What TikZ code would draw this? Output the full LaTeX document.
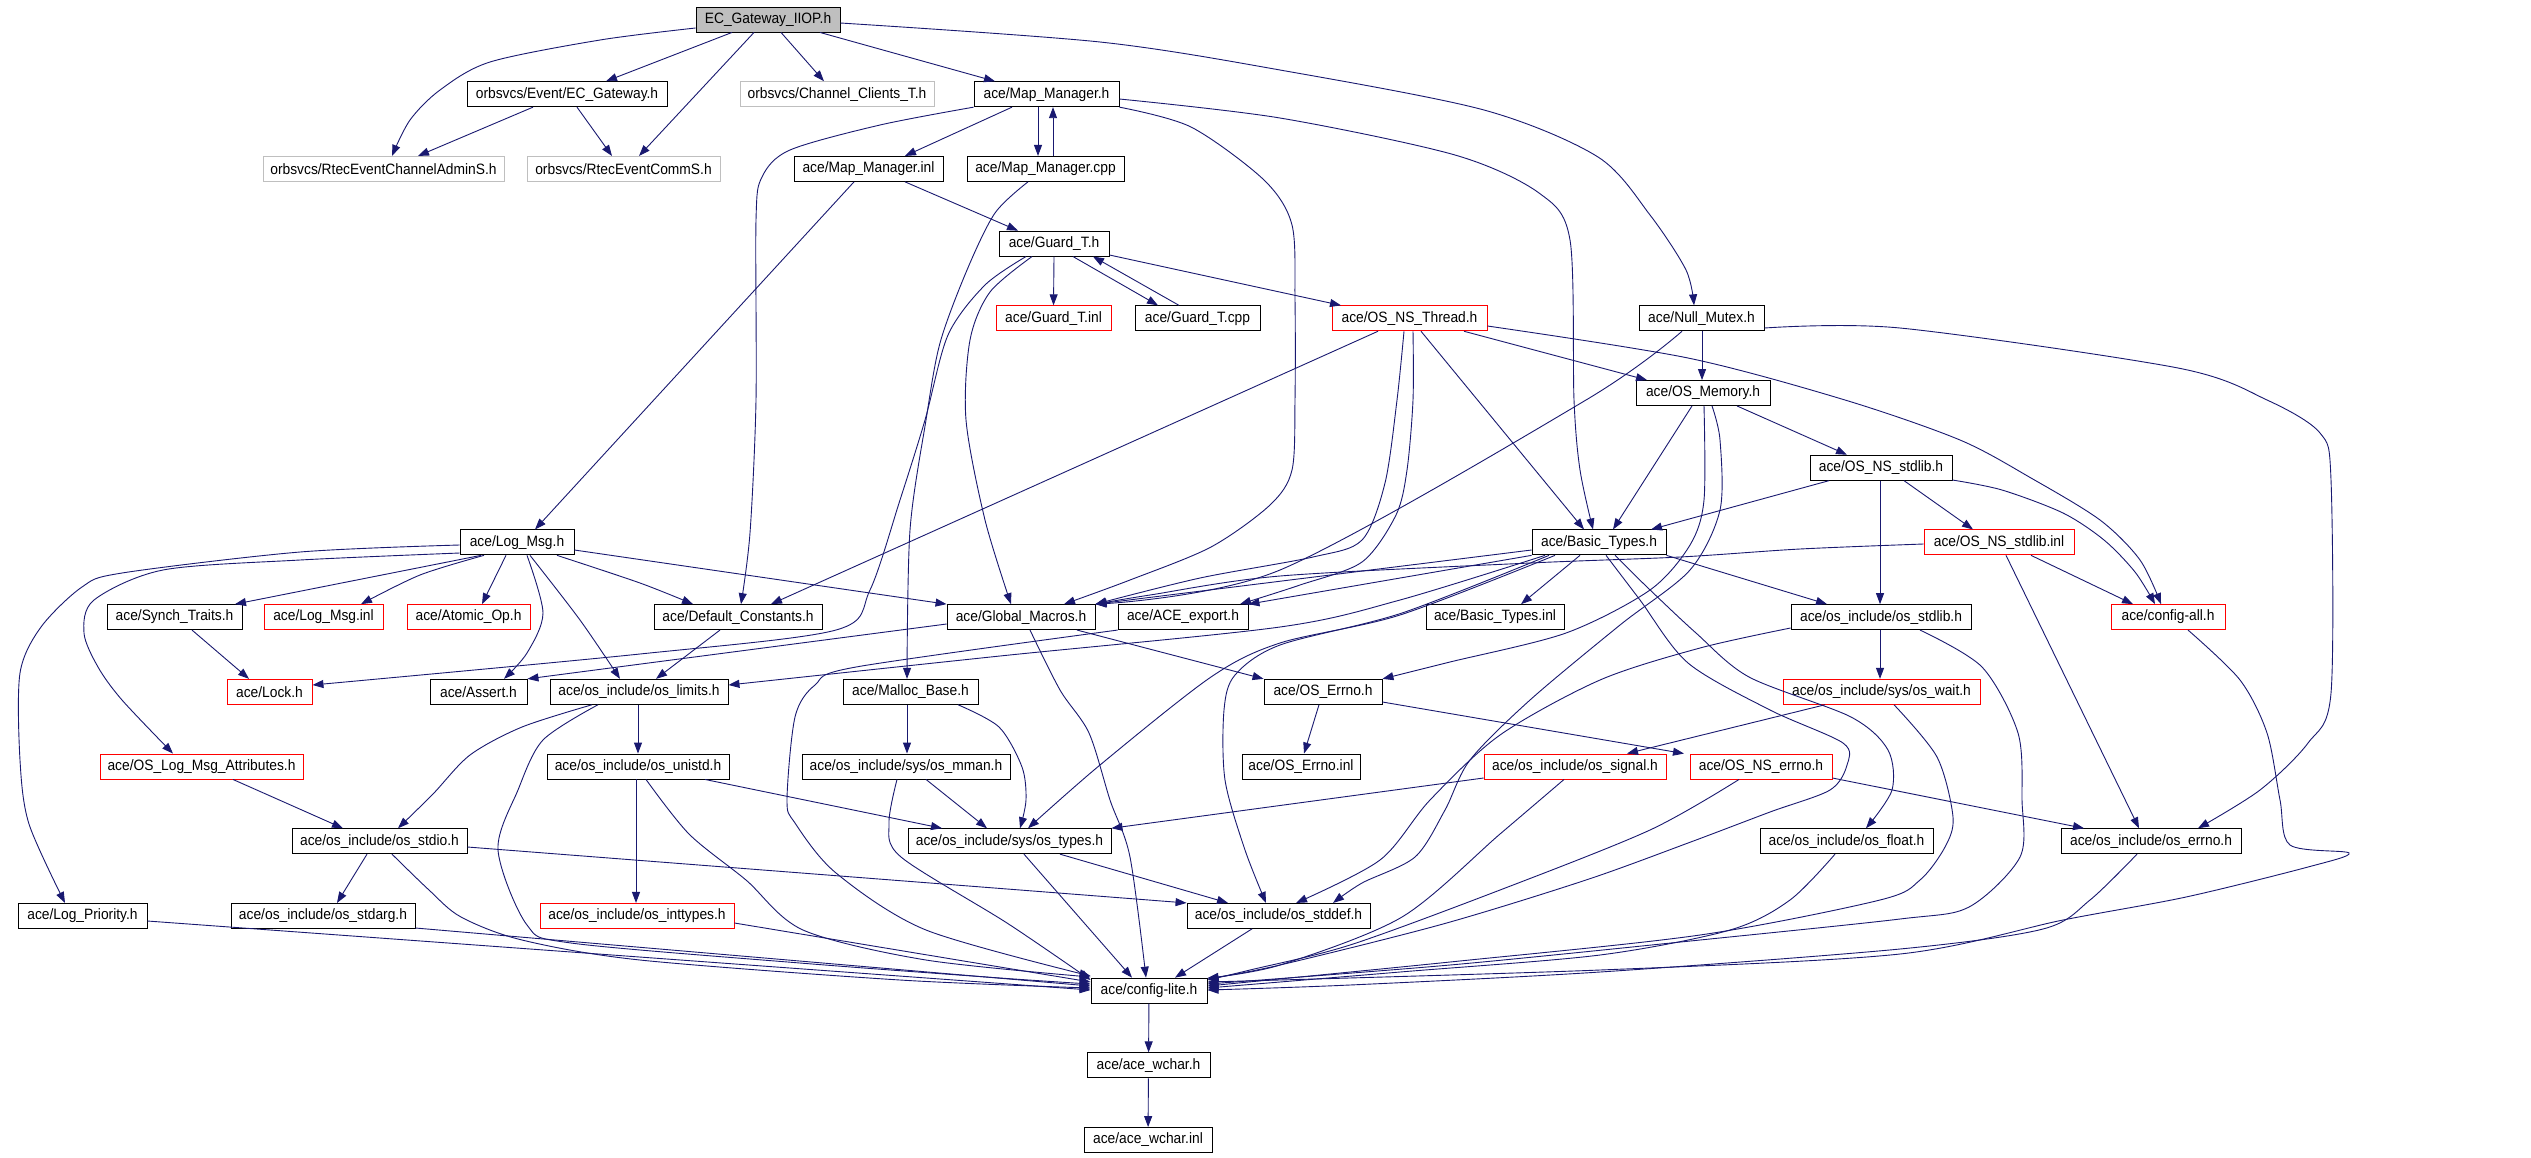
\documentclass[tikz,border=0pt]{standalone}
\usepackage{fontspec}
\setmainfont{Liberation Sans}[FakeStretch=0.92]
\usetikzlibrary{arrows.meta}
\definecolor{edgec}{HTML}{191970}
\definecolor{graybd}{HTML}{BFBFBF}
\newcommand{\nfs}{\fontsize{15pt}{18pt}\selectfont}
\begin{document}
\begin{tikzpicture}[x=1pt,y=-1pt,
  nb/.style={draw=black, line width=0.9pt, rectangle, inner sep=0pt, minimum height=25pt, font=\nfs, text=black},
  nr/.style={nb, draw=red},
  ng/.style={nb, draw=graybd},
  nroot/.style={nb, fill=graybd},
  edg/.style={draw=edgec, line width=0.9pt, -{Triangle[length=11pt,width=8pt]}},
]
\useasboundingbox[fill=white] (0,0) rectangle (2531,1157);
% ---------------- nodes ----------------
\node[nroot, minimum width=144] (root) at (768,19.5) {EC\_Gateway\_IIOP.h};
\node[nb, minimum width=200] (ecgw) at (567,94.2) {orbsvcs/Event/EC\_Gateway.h};
\node[ng, minimum width=194] (cct) at (837,94.2) {orbsvcs/Channel\_Clients\_T.h};
\node[nb, minimum width=145] (mmh) at (1046.5,94.2) {ace/Map\_Manager.h};
\node[ng, minimum width=241] (rtadm) at (383.5,168.9) {orbsvcs/RtecEventChannelAdminS.h};
\node[ng, minimum width=193] (rtcomm) at (623.5,168.9) {orbsvcs/RtecEventCommS.h};
\node[nb, minimum width=149] (mminl) at (868.5,168.9) {ace/Map\_Manager.inl};
\node[nb, minimum width=157] (mmcpp) at (1045.5,168.9) {ace/Map\_Manager.cpp};
\node[nb, minimum width=110] (guard) at (1054,243.6) {ace/Guard\_T.h};
\node[nr, minimum width=115] (guardinl) at (1053.5,318.3) {ace/Guard\_T.inl};
\node[nb, minimum width=125] (guardcpp) at (1197.5,318.3) {ace/Guard\_T.cpp};
\node[nr, minimum width=155] (thread) at (1409.5,318.3) {ace/OS\_NS\_Thread.h};
\node[nb, minimum width=125] (nullmx) at (1701.5,318.3) {ace/Null\_Mutex.h};
\node[nb, minimum width=134] (osmem) at (1703,393) {ace/OS\_Memory.h};
\node[nb, minimum width=142] (nsstdlib) at (1881,467.7) {ace/OS\_NS\_stdlib.h};
\node[nb, minimum width=114] (logmsg) at (517,542.4) {ace/Log\_Msg.h};
\node[nb, minimum width=134] (basic) at (1599,542.4) {ace/Basic\_Types.h};
\node[nr, minimum width=150] (stdlibinl) at (1999,542.4) {ace/OS\_NS\_stdlib.inl};
\node[nb, minimum width=135] (synch) at (174.5,617.1) {ace/Synch\_Traits.h};
\node[nr, minimum width=119] (logmsginl) at (323.5,617.1) {ace/Log\_Msg.inl};
\node[nr, minimum width=123] (atomic) at (468.5,617.1) {ace/Atomic\_Op.h};
\node[nb, minimum width=168] (defc) at (738,617.1) {ace/Default\_Constants.h};
\node[nb, minimum width=148] (gmac) at (1021,617.1) {ace/Global\_Macros.h};
\node[nb, minimum width=130] (export) at (1183,617.1) {ace/ACE\_export.h};
\node[nb, minimum width=138] (basicinl) at (1495,617.1) {ace/Basic\_Types.inl};
\node[nb, minimum width=180] (osstdlib) at (1881,617.1) {ace/os\_include/os\_stdlib.h};
\node[nr, minimum width=114] (cfgall) at (2168,617.1) {ace/config-all.h};
\node[nr, minimum width=85] (lock) at (269.5,691.8) {ace/Lock.h};
\node[nb, minimum width=97] (assert) at (478.5,691.8) {ace/Assert.h};
\node[nb, minimum width=178] (limits) at (639,691.8) {ace/os\_include/os\_limits.h};
\node[nb, minimum width=135] (malloc) at (910.5,691.8) {ace/Malloc\_Base.h};
\node[nb, minimum width=118] (errno) at (1323,691.8) {ace/OS\_Errno.h};
\node[nr, minimum width=197] (wait) at (1881.5,691.8) {ace/os\_include/sys/os\_wait.h};
\node[nr, minimum width=203] (attrs) at (201.5,766.5) {ace/OS\_Log\_Msg\_Attributes.h};
\node[nb, minimum width=182] (unistd) at (638,766.5) {ace/os\_include/os\_unistd.h};
\node[nb, minimum width=208] (mman) at (906,766.5) {ace/os\_include/sys/os\_mman.h};
\node[nb, minimum width=118] (errnoinl) at (1301,766.5) {ace/OS\_Errno.inl};
\node[nr, minimum width=182] (signal) at (1575,766.5) {ace/os\_include/os\_signal.h};
\node[nr, minimum width=142] (nserrno) at (1761,766.5) {ace/OS\_NS\_errno.h};
\node[nb, minimum width=175] (stdio) at (379.5,841.2) {ace/os\_include/os\_stdio.h};
\node[nb, minimum width=203] (types) at (1009.5,841.2) {ace/os\_include/sys/os\_types.h};
\node[nb, minimum width=173] (float) at (1846.5,841.2) {ace/os\_include/os\_float.h};
\node[nb, minimum width=180] (oserrno) at (2151,841.2) {ace/os\_include/os\_errno.h};
\node[nb, minimum width=129] (logprio) at (82.5,915.9) {ace/Log\_Priority.h};
\node[nb, minimum width=184] (stdarg) at (323,915.9) {ace/os\_include/os\_stdarg.h};
\node[nr, minimum width=194] (inttypes) at (637,915.9) {ace/os\_include/os\_inttypes.h};
\node[nb, minimum width=183] (stddef) at (1278.5,915.9) {ace/os\_include/os\_stddef.h};
\node[nb, minimum width=116] (cfglite) at (1149,990.6) {ace/config-lite.h};
\node[nb, minimum width=123] (wchar) at (1148.5,1065.3) {ace/ace\_wchar.h};
\node[nb, minimum width=128] (wcharinl) at (1148,1140) {ace/ace\_wchar.inl};
% ---------------- edges ----------------
% root
\draw[edg] plot[smooth] coordinates {(root.west |- 0,28) (600,40) (490,62) (440,90) (410,120) (rtadm.north -| 392,0)};
\draw[edg] (root.south -| 732,0) -- (ecgw.north -| 606,0);
\draw[edg] (root.south -| 754,0) -- (rtcomm.north -| 639,0);
\draw[edg] (root.south -| 781,0) -- (cct.north -| 824,0);
\draw[edg] (root.south -| 820,0) -- (mmh.north -| 995,0);
\draw[edg] plot[smooth] coordinates {(root.east |- 0,23) (1100,42) (1280,70) (1484,110) (1598,157) (1650,215) (1686,270) (nullmx.north -| 1694,0)};
% EC_Gateway
\draw[edg] (ecgw.south -| 533,0) -- (rtadm.north -| 418,0);
\draw[edg] (ecgw.south -| 577,0) -- (rtcomm.north -| 612,0);
% Map_Manager.h
\draw[edg] (mmh.south -| 1012,0) -- (mminl.north -| 905,0);
\draw[edg] (mmh.south -| 1038,0) -- (mmcpp.north -| 1038,0);
\draw[edg] (mmcpp.north -| 1053,0) -- (mmh.south -| 1053,0);
\draw[edg] plot[smooth] coordinates {(mmh.south west) (880,125) (790,150) (762,177) (756,220) (756,400) (750,533) (defc.north -| 741,0)};
\draw[edg] plot[smooth] coordinates {(mmh.south east) (1191,127) (1264,180) (1292,225) (1295,300) (1295,400) (1292,470) (1270,505) (1211,547) (1130,580) (gmac.north -| 1064,0)};
\draw[edg] plot[smooth] coordinates {(mmh.east |- 0,99) (1280,118) (1455,155) (1539,193) (1570,240) (1574,400) (1580,470) (basic.north -| 1593,0)};
% Map_Manager.inl / cpp
\draw[edg] (mminl.south -| 854,0) -- (logmsg.north -| 535,0);
\draw[edg] (mminl.south -| 905,0) -- (guard.north -| 1018,0);
\draw[edg] plot[smooth] coordinates {(mmcpp.south -| 1028,0) (995,213) (967,270) (940,343) (926,420) (910,530) (malloc.north -| 907,0)};
% Guard_T.h
\draw[edg] plot[smooth] coordinates {(guard.south -| 1026,0) (985,285) (948,335) (925,420) (900,500) (870,590) (836,630) (640,654) (lock.east |- 0,685)};
\draw[edg] plot[smooth] coordinates {(guard.south -| 1032,0) (990,292) (970,340) (966,420) (985,520) (gmac.north -| 1011,0)};
\draw[edg] (guard.south) -- (guardinl.north);
\draw[edg] (guard.south -| 1073,0) -- (guardcpp.north -| 1158,0);
\draw[edg] (guardcpp.north -| 1179,0) -- (guard.south -| 1093,0);
\draw[edg] (guard.east |- 0,255) -- (thread.north -| 1341,0);
% OS_NS_Thread.h
\draw[edg] (thread.south -| 1378,0) -- (defc.north -| 771,0);
\draw[edg] plot[smooth] coordinates {(thread.south -| 1404,0) (1397,400) (1385,483) (1362,540) (1313,557) (1200,578) (gmac.north east)};
\draw[edg] plot[smooth] coordinates {(thread.south -| 1413,0) (1413,400) (1407,470) (1396,515) (1362,562) (1300,585) (export.north -| 1240,0)};
\draw[edg] (thread.south -| 1421,0) -- (basic.north -| 1584,0);
\draw[edg] (thread.south -| 1464,0) -- (osmem.north -| 1647,0);
\draw[edg] plot[smooth] coordinates {(thread.east |- 0,326) (1688,358) (1845,400) (1960,440) (2031,478) (2100,520) (2140,560) (cfgall.north -| 2161,0)};
% Null_Mutex.h
\draw[edg] (nullmx.south -| 1702,0) -- (osmem.north -| 1702,0);
\draw[edg] plot[smooth] coordinates {(nullmx.south -| 1682,0) (1586,400) (1280,570) (gmac.north east)};
\draw[edg] plot[smooth] coordinates {(nullmx.east |- 0,328) (1900,328) (2178,368) (2267,400) (2320,433) (2331,480) (2331,693) (2308,743) (2260,790) (oserrno.north -| 2198,0)};
% OS_Memory.h
\draw[edg] (osmem.south -| 1692,0) -- (basic.north -| 1613,0);
\draw[edg] (osmem.south -| 1737,0) -- (nsstdlib.north -| 1847,0);
\draw[edg] plot[smooth] coordinates {(osmem.south -| 1704,0) (1704,500) (1690,545) (1650,590) (1566,633) (1450,662) (errno.north east)};
\draw[edg] plot[smooth] coordinates {(osmem.south -| 1712,0) (1720,440) (1720,510) (1690,570) (1620,625) (1530,700) (1470,760) (1445,810) (1415,857) (1362,883) (stddef.north -| 1333,0)};
% OS_NS_stdlib.h
\draw[edg] (nsstdlib.south -| 1829,0) -- (basic.north -| 1651,0);
\draw[edg] (nsstdlib.south -| 1880,0) -- (osstdlib.north -| 1880,0);
\draw[edg] (nsstdlib.south -| 1904,0) -- (stdlibinl.north -| 1973,0);
\draw[edg] plot[smooth] coordinates {(nsstdlib.east |- 0,480) (2002,490) (2063,513) (2104,540) (2135,572) (cfgall.north -| 2155,0)};
% OS_NS_stdlib.inl
\draw[edg] plot[smooth] coordinates {(stdlibinl.west |- 0,544) (1800,549) (1680,557) (1530,563) (1280,576) (1150,595) (gmac.north east)};
\draw[edg] (stdlibinl.south -| 2031,0) -- (cfgall.north -| 2133,0);
\draw[edg] (stdlibinl.south -| 2006,0) -- (oserrno.north -| 2139,0);
% config-all.h
\draw[edg] plot[smooth] coordinates {(cfgall.south -| 2188,0) (2240,680) (2267,733) (2280,800) (2290,845) (2349,853) (2308,867) (2186,897) (2063,920) (1900,954) (1600,970) (cfglite.east |- 0,982)};
% os_stdlib.h
\draw[edg] (osstdlib.south -| 1880,0) -- (wait.north -| 1880,0);
\draw[edg] plot[smooth] coordinates {(osstdlib.south -| 1920,0) (1982,667) (2018,733) (2022,800) (2020,857) (1969,907) (1900,919) (1700,940) (1450,965) (cfglite.east |- 0,984)};
\draw[edg] plot[smooth] coordinates {(osstdlib.west |- 0,628) (1700,648) (1600,680) (1500,735) (1430,800) (1380,860) (stddef.north -| 1296,0)};
% os_wait.h
\draw[edg] (wait.south -| 1825,0) -- (signal.north -| 1627,0);
\draw[edg] plot[smooth] coordinates {(wait.south -| 1894,0) (1937,757) (1953,817) (1945,847) (1920,880) (1880,900) (1700,935) (1450,962) (cfglite.east |- 0,986)};
% os_signal.h
\draw[edg] (signal.west |- 0,778) -- (types.north east);
\draw[edg] plot[smooth] coordinates {(signal.south -| 1564,0) (1500,834) (1402,917) (1280,965) (cfglite.east |- 0,978)};
% OS_NS_errno.h
\draw[edg] (nserrno.east |- 0,778) -- (oserrno.north -| 2084,0);
\draw[edg] plot[smooth] coordinates {(nserrno.south -| 1739,0) (1650,830) (1500,890) (1350,945) (1250,970) (cfglite.east |- 0,980)};
% OS_Errno.h
\draw[edg] (errno.south -| 1319,0) -- (errnoinl.north -| 1304,0);
\draw[edg] (errno.east |- 0,702) -- (nserrno.north -| 1684,0);
% os_float.h, os_errno.h
\draw[edg] plot[smooth] coordinates {(float.south -| 1835,0) (1790,900) (1730,930) (1600,955) (1400,972) (cfglite.east |- 0,988)};
\draw[edg] plot[smooth] coordinates {(oserrno.south -| 2137,0) (2090,900) (2043,929) (1900,949) (1600,972) (1350,985) (cfglite.east |- 0,990)};
% Basic_Types.h
\draw[edg] plot[smooth] coordinates {(basic.south -| 1615,0) (1647,587) (1696,633) (1749,677) (1851,717) (1888,750) (1892,790) (float.north -| 1866,0)};
\draw[edg] plot[smooth] coordinates {(basic.south -| 1606,0) (1640,600) (1688,663) (1770,710) (1843,743) (1847,765) (1830,790) (1770,812) (1688,843) (1586,880) (1443,924) (1280,965) (cfglite.east |- 0,979)};
\draw[edg] (basic.south east) -- (osstdlib.north -| 1827,0);
\draw[edg] (basic.south -| 1580,0) -- (basicinl.north -| 1521,0);
\draw[edg] (basic.south west) -- (export.north east);
\draw[edg] (basic.west |- 0,550) -- (gmac.north east);
\draw[edg] plot[smooth] coordinates {(basic.south -| 1545,0) (1400,600) (1280,627) (1000,656) (limits.east |- 0,685)};
\draw[edg] plot[smooth] coordinates {(basic.south -| 1555,0) (1400,615) (1280,643) (1211,677) (1100,765) (types.north -| 1028,0)};
\draw[edg] plot[smooth] coordinates {(basic.south -| 1549,0) (1402,613) (1280,645) (1235,675) (1224,710) (1225,780) (1245,850) (stddef.north -| 1266,0)};
% Global_Macros.h
\draw[edg] (gmac.west |- 0,624) -- (assert.north east);
\draw[edg] plot[smooth] coordinates {(gmac.south -| 1030,0) (1060,690) (1089,733) (1110,800) (1130,857) (cfglite.north -| 1146,0)};
\draw[edg] (gmac.south -| 1077,0) -- (errno.north west);
% Log_Msg.h
\draw[edg] (logmsg.east |- 0,550) -- (gmac.north west);
\draw[edg] plot[smooth] coordinates {(logmsg.south -| 557,0) (640,583) (defc.north -| 693,0)};
\draw[edg] (logmsg.south -| 481,0) -- (synch.north -| 235,0);
\draw[edg] plot[smooth] coordinates {(logmsg.south -| 484,0) (420,575) (logmsginl.north -| 361,0)};
\draw[edg] (logmsg.south -| 506,0) -- (atomic.north -| 482,0);
\draw[edg] plot[smooth] coordinates {(logmsg.south -| 527,0) (543,613) (527,653) (assert.north -| 504,0)};
\draw[edg] plot[smooth] coordinates {(logmsg.south -| 530,0) (580,620) (limits.north -| 620,0)};
\draw[edg] plot[smooth] coordinates {(logmsg.west |- 0,553) (300,560) (163,570) (94,600) (84,633) (98,667) (122,700) (attrs.north -| 173,0)};
\draw[edg] plot[smooth] coordinates {(logmsg.west |- 0,545) (300,552) (122,573) (82,587) (41,627) (20,673) (20,760) (29,824) (logprio.north -| 65,0)};
% others
\draw[edg] (synch.south -| 192,0) -- (lock.north -| 249,0);
\draw[edg] (defc.south -| 720,0) -- (limits.north -| 656,0);
\draw[edg] plot[smooth] coordinates {(export.south west) (856,667) (815,685) (795,717) (787,800) (795,823) (836,873) (926,930) (cfglite.west |- 0,976)};
\draw[edg] plot[smooth] coordinates {(limits.south -| 592,0) (522,727) (470,755) (433,794) (stdio.north -| 398,0)};
\draw[edg] plot[smooth] coordinates {(limits.south -| 598,0) (543,740) (518,790) (498,850) (527,925) (571,943) (800,963) (1000,978) (cfglite.west |- 0,984)};
\draw[edg] (limits.south -| 638,0) -- (unistd.north -| 638,0);
\draw[edg] (attrs.south -| 233,0) -- (stdio.north -| 343,0);
\draw[edg] (unistd.south -| 636,0) -- (inttypes.north -| 636,0);
\draw[edg] (unistd.south -| 705,0) -- (types.north -| 942,0);
\draw[edg] plot[smooth] coordinates {(unistd.south -| 646,0) (689,834) (746,880) (803,930) (926,960) (cfglite.west |- 0,977)};
\draw[edg] (malloc.south -| 907,0) -- (mman.north -| 907,0);
\draw[edg] plot[smooth] coordinates {(malloc.south -| 958,0) (999,727) (1022,767) (1026,800) (types.north -| 1020,0)};
\draw[edg] (mman.south -| 926,0) -- (types.north -| 987,0);
\draw[edg] plot[smooth] coordinates {(mman.south -| 897,0) (889,823) (901,857) (1007,923) (cfglite.west |- 0,980)};
\draw[edg] (types.south -| 1024,0) -- (cfglite.north -| 1132,0);
\draw[edg] (types.south -| 1060,0) -- (stddef.north -| 1228,0);
\draw[edg] (stdio.south -| 367,0) -- (stdarg.north -| 337,0);
\draw[edg] plot[smooth] coordinates {(stdio.south -| 392,0) (429,890) (461,917) (522,940) (640,960) (900,980) (cfglite.west |- 0,988)};
\draw[edg] (stdio.east |- 0,847) -- (stddef.north west);
\draw[edg] (logprio.east |- 0,921) -- (cfglite.west |- 0,990);
\draw[edg] (stdarg.east |- 0,928) -- (cfglite.west |- 0,986);
\draw[edg] (inttypes.east |- 0,923) -- (cfglite.west |- 0,982);
\draw[edg] (stddef.south -| 1252,0) -- (cfglite.north -| 1175,0);
\draw[edg] (cfglite) -- (wchar);
\draw[edg] (wchar) -- (wcharinl);
\end{tikzpicture}
\end{document}
